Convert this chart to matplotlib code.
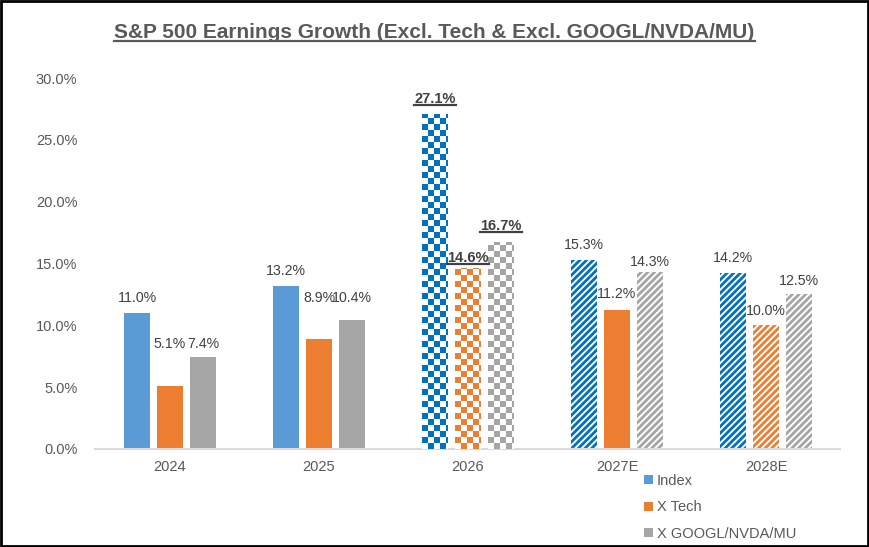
import numpy as np
import matplotlib
matplotlib.use('Agg')
import matplotlib.pyplot as plt
from matplotlib.colors import ListedColormap
from matplotlib.patches import Patch, Rectangle
from matplotlib.lines import Line2D

plt.rcParams['font.family'] = ['Liberation Sans', 'DejaVu Sans']
plt.rcParams['hatch.linewidth'] = 2.0

# data
years = ['2024', '2025', '2026', '2027E', '2028E']
series = ['Index', 'X Tech', 'X GOOGL/NVDA/MU']
index_g = [11.0, 13.2, 27.1, 15.3, 14.2]
xtech_g = [5.1, 8.9, 14.6, 11.2, 10.0]
xmega_g = [7.4, 10.4, 16.7, 14.3, 12.5]
# where excel parked the labels (baseline, in %)
lab_index = [11.9, 14.1, 28.0, 16.2, 15.1]
lab_xtech = [8.2, 11.9, 15.1, 12.2, 10.8]
lab_xmega = [8.2, 11.9, 17.7, 14.8, 13.3]

solid = ['#5B9BD5', '#ED7D31', '#A5A5A5']
patt = ['#0070C0', '#ED7D31', '#A5A5A5']
# fill style per year & series: s = solid, c = checkerboard, d = diagonal stripes
style = [['s', 's', 's'], ['s', 's', 's'], ['c', 'c', 'c'], ['d', 's', 'd'], ['d', 'd', 'd']]

W, H = 870, 547
fig = plt.figure(figsize=(W / 100, H / 100), dpi=100)
ax = fig.add_axes([95.5 / W, 1 - 449 / H, (840.5 - 95.5) / W, (449 - 78) / H])
ax.set_xlim(-0.5, len(years) - 0.5)
ax.set_ylim(0, 30)

x = np.arange(len(years))
bw = 26 / 149
off = 33 / 149
vals = [index_g, xtech_g, xmega_g]
labs = [lab_index, lab_xtech, lab_xmega]


def checker(bar, color, sq=6):
    x0, y0 = bar.get_x(), bar.get_y()
    w, h = bar.get_width(), bar.get_height()
    p0 = ax.transData.transform((x0, y0))
    p1 = ax.transData.transform((x0 + w, y0 + h))
    dx = w / (p1[0] - p0[0])
    dy = h / (p1[1] - p0[1])
    nx = int(np.ceil((p1[0] - p0[0]) / sq))
    ny = int(np.ceil((p1[1] - p0[1]) / sq))
    grid = np.add.outer(np.arange(ny), np.arange(nx)) % 2
    im = ax.imshow(grid, cmap=ListedColormap(['white', color]), origin='lower',
                   extent=(x0, x0 + nx * sq * dx, y0, y0 + ny * sq * dy),
                   aspect='auto', interpolation='nearest', zorder=3)
    im.set_clip_path(bar)


for j in range(3):
    for i in range(len(years)):
        st = style[i][j]
        xx = x[i] + (j - 1) * off
        if st == 's':
            b = ax.bar(xx, vals[j][i], bw, color=solid[j], zorder=2)[0]
        elif st == 'd':
            b = ax.bar(xx, vals[j][i], bw, facecolor='white', edgecolor=patt[j],
                       hatch='/////', linewidth=0, zorder=2)[0]
        else:
            b = ax.bar(xx, vals[j][i], bw, facecolor='white', linewidth=0, zorder=2)[0]
            checker(b, patt[j])

ax.set_xlim(-0.5, len(years) - 0.5)
ax.set_ylim(0, 30)

for s in ['top', 'right', 'left']:
    ax.spines[s].set_visible(False)
ax.spines['bottom'].set_color('#D9D9D9')
ax.spines['bottom'].set_linewidth(1.5)
ax.set_yticks(np.arange(0, 31, 5))
ax.set_yticklabels(['%.1f%%' % v for v in np.arange(0, 31, 5)])
ax.set_xticks(x)
ax.set_xticklabels(years)
ax.tick_params(length=0, labelsize=10.5, colors='#595959')
ax.tick_params(axis='y', pad=13)
ax.tick_params(axis='x', pad=8)

texts_ul = []
for j in range(3):
    for i in range(len(years)):
        xx = x[i] + (j - 1) * off
        bold = (years[i] == '2026')
        t = ax.text(xx, labs[j][i], '%.1f%%' % vals[j][i], ha='center', va='baseline',
                    fontsize=10.5 if bold else 10.2, color='#404040',
                    fontweight='bold' if bold else 'normal', zorder=5)
        if bold:
            texts_ul.append(t)

title = fig.text(434.5 / W, 1 - 38 / H,
                 'S&P 500 Earnings Growth (Excl. Tech & Excl. GOOGL/NVDA/MU)',
                 ha='center', va='baseline', fontsize=15, fontweight='bold', color='#595959')
texts_ul.append(title)

handles = [Patch(facecolor=c, edgecolor='none') for c in solid]
fig.legend(handles, series, loc='upper left', bbox_to_anchor=(644 / W, 1 - 474 / H),
           frameon=False, fontsize=10.5, labelcolor='#595959', handlelength=0.6,
           handleheight=0.6, handletextpad=0.3, labelspacing=0.85, borderaxespad=0,
           borderpad=0)

# underlines under the bold texts
r = fig.canvas.get_renderer()
for t in texts_ul:
    bb = t.get_window_extent(r)
    y = bb.y0 + 1
    fig.add_artist(Line2D([bb.x0 / W, bb.x1 / W], [y / H, y / H], color=t.get_color(),
                          linewidth=1.6, transform=fig.transFigure))

fig.add_artist(Rectangle((0.001, 0.002), 0.997, 0.996, transform=fig.transFigure,
                         fill=False, edgecolor='black', linewidth=2))

fig.savefig('out.png', dpi=100)
